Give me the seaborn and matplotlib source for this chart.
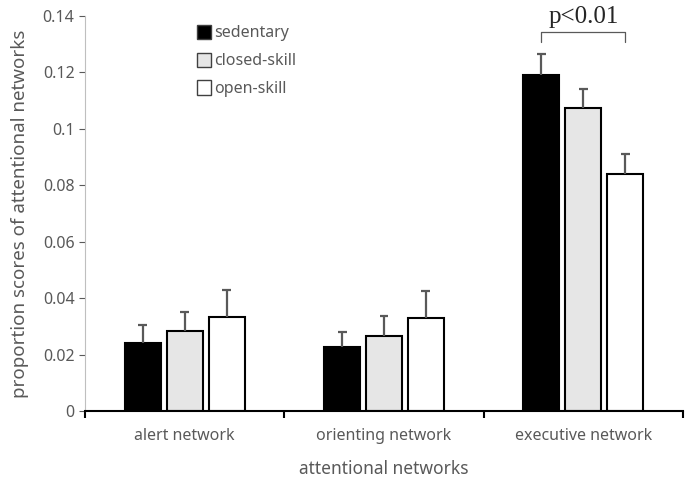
import pandas as pd
import matplotlib.pyplot as plt
import seaborn as sns

# values
networks = ["alert network", "orienting network", "executive network"]
groups = ["sedentary", "closed-skill", "open-skill"]
means = {
    "sedentary":    [0.0241, 0.0227, 0.1190],
    "closed-skill": [0.0285, 0.0265, 0.1073],
    "open-skill":   [0.0332, 0.0330, 0.0840],
}
errors = {
    "sedentary":    [0.0064, 0.0053, 0.0076],
    "closed-skill": [0.0065, 0.0070, 0.0067],
    "open-skill":   [0.0096, 0.0095, 0.0070],
}
colors = ["#000000", "#e6e6e6", "#ffffff"]

rows = []
for g in groups:
    for n, m in zip(networks, means[g]):
        rows.append({"network": n, "group": g, "score": m})
df = pd.DataFrame(rows)

sns.set_style("white")
plt.rcParams["font.family"] = ["Noto Sans", "DejaVu Sans"]
gray = "#595959"

fig = plt.figure(figsize=(6.87, 4.83), dpi=100)
ax = fig.add_axes([85 / 687, 1 - 411 / 483, 598 / 687, 395 / 483])

sns.barplot(data=df, x="network", y="score", hue="group", order=networks,
            hue_order=groups, palette=colors, width=0.63, gap=0.14,
            edgecolor="black", linewidth=1.5, errorbar=None, ax=ax)

# one-sided error bars on top of each bar
for g, cont in zip(groups, ax.containers):
    for bar, m, e in zip(cont, means[g], errors[g]):
        x = bar.get_x() + bar.get_width() / 2
        ax.vlines(x, m, m + e, color=gray, lw=1.6, zorder=1)
        ax.hlines(m + e, x - 0.022, x + 0.022, color=gray, lw=1.6, zorder=1)

ax.set_xlim(-0.5, 2.5)
ax.set_ylim(0, 0.14)
ax.set_yticks([0, 0.02, 0.04, 0.06, 0.08, 0.1, 0.12, 0.14])
ax.set_yticklabels(["0", "0.02", "0.04", "0.06", "0.08", "0.1", "0.12", "0.14"])
ax.tick_params(axis="y", colors=gray, labelsize=11.5, length=4, direction="out",
               left=True, width=0.8)
ax.tick_params(axis="x", colors=gray, labelsize=11.5, length=0, pad=12)
ax.set_xticks([-0.5, 0.5, 1.5, 2.5], minor=True)
ax.tick_params(axis="x", which="minor", length=5, width=1.5, color="black",
               direction="out", bottom=True)

sns.despine(ax=ax)
ax.spines["left"].set_color("#bfbfbf")
ax.spines["bottom"].set_color("black")
ax.spines["bottom"].set_linewidth(1.5)

ax.set_xlabel("attentional networks", color=gray, fontsize=12.5, labelpad=12)
ax.set_ylabel("proportion scores of attentional networks", color=gray,
              fontsize=13.5, labelpad=10)

# significance bracket over the executive network
x0 = ax.containers[0][2].get_x() + ax.containers[0][2].get_width() / 2
x1 = ax.containers[2][2].get_x() + ax.containers[2][2].get_width() / 2
ax.plot([x0, x0, x1, x1], [0.1309, 0.1344, 0.1344, 0.1309], color=gray,
        lw=0.9, clip_on=False)
ax.text((x0 + x1) / 2, 0.1375, "p<0.01", ha="center", va="baseline",
        fontsize=18, family=["Liberation Serif", "DejaVu Serif"], clip_on=False)

leg = ax.legend(loc="upper left", bbox_to_anchor=(0.163, 1.014), frameon=False,
                fontsize=11.5, handlelength=0.9, handleheight=1.0,
                handletextpad=0.2, labelspacing=0.7)
for t in leg.get_texts():
    t.set_color(gray)
for h in leg.legend_handles:
    h.set_linewidth(1.0)
    h.set_edgecolor("#404040")

fig.savefig("out.png", dpi=100)
